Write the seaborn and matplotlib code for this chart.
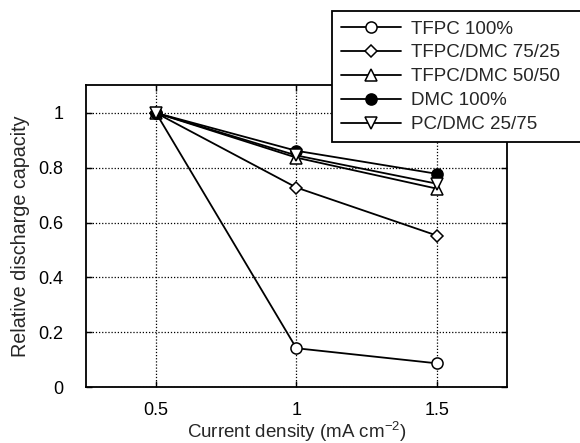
import matplotlib
matplotlib.use("Agg")
import matplotlib.pyplot as plt
import seaborn as sns
import pandas as pd

current = [0.5, 1.0, 1.5]
tfpc_100 = [1.0, 0.142, 0.087]
tfpc_dmc_75_25 = [1.0, 0.728, 0.553]
tfpc_dmc_50_50 = [1.0, 0.837, 0.724]
dmc_100 = [1.0, 0.862, 0.778]
pc_dmc_25_75 = [1.0, 0.845, 0.742]

series = [
    ("TFPC 100%", tfpc_100, "o", "white"),
    ("TFPC/DMC 75/25", tfpc_dmc_75_25, "D", "white"),
    ("TFPC/DMC 50/50", tfpc_dmc_50_50, "^", "white"),
    ("DMC 100%", dmc_100, "o", "black"),
    ("PC/DMC 25/75", pc_dmc_25_75, "v", "white"),
]

sns.set_style("ticks")
plt.rcParams["font.family"] = ["Liberation Sans", "DejaVu Sans"]
plt.rcParams["mathtext.default"] = "regular"

fig = plt.figure(figsize=(5.8, 4.43), dpi=100)
ax = fig.add_axes([0.148, 0.126, 0.726, 0.681])

for name, vals, mk, fc in series:
    df = pd.DataFrame({"x": current, "y": vals})
    ms = 6.5 if mk == "D" else 8
    sns.lineplot(data=df, x="x", y="y", ax=ax, color="black", lw=1.3,
                 marker=mk, markersize=ms, markerfacecolor=fc,
                 markeredgecolor="black", markeredgewidth=1.1, label=name,
                 legend=False)

ax.set_xlim(0.25, 1.75)
ax.set_ylim(0, 1.1)
ax.set_xticks([0.5, 1, 1.5])
ax.set_xticklabels(["0.5", "1", "1.5"])
ax.set_yticks([0, 0.2, 0.4, 0.6, 0.8, 1])
ax.set_yticklabels(["0", "0.2", "0.4", "0.6", "0.8", "1"])
ax.grid(True, color="black", linestyle=(0, (1, 1.5)), lw=0.9)
ax.tick_params(direction="in", length=4, width=1, labelsize=13, colors="black",
               top=True, right=True)
ax.tick_params(axis="x", pad=11)
ax.tick_params(axis="y", pad=16)
for s in ax.spines.values():
    s.set_color("black")
    s.set_linewidth(1.3)

ax.set_xlabel("Current density (mA cm$^{-2}$)", fontsize=13.5, labelpad=0.5)
ax.set_ylabel("Relative discharge capacity", fontsize=14.2, labelpad=6)

h, l = ax.get_legend_handles_labels()
leg = fig.legend(h, l, loc="upper left", bbox_to_anchor=(0.572, 0.679, 0.44, 0.296),
                 mode="expand", borderaxespad=0,
                 fontsize=13.5, handlelength=3.2, handletextpad=0.5,
                 labelspacing=0.36, borderpad=0.5, fancybox=False,
                 framealpha=1, edgecolor="black")
leg.get_frame().set_linewidth(1.3)

fig.savefig("out.png", dpi=100)
